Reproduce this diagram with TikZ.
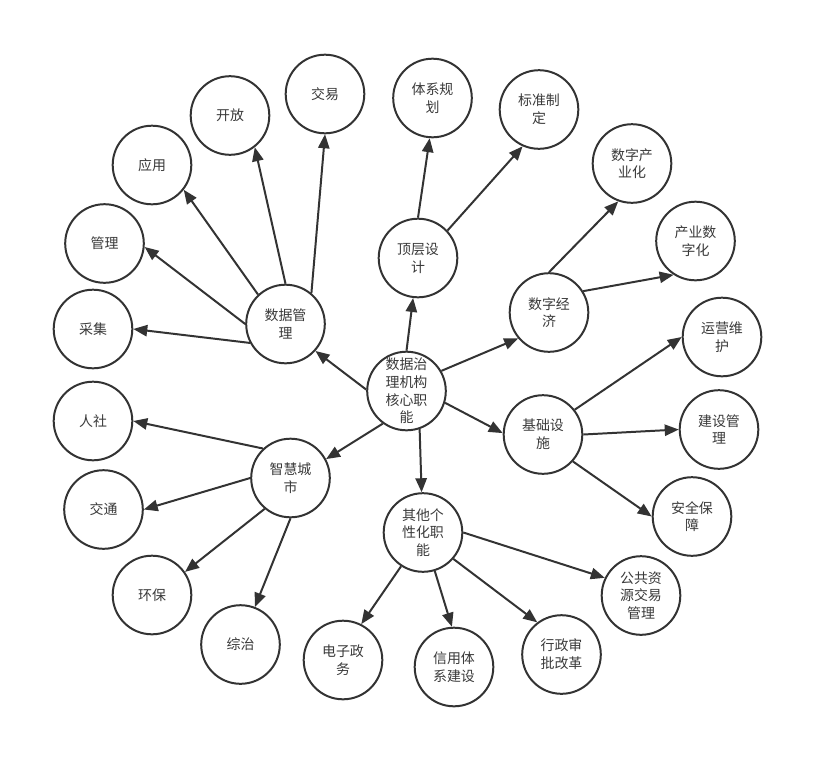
\documentclass[tikz,border=0pt]{standalone}
\usepackage{fontspec}
\usepackage{tikz}
\usetikzlibrary{arrows.meta}
\newfontfamily\cjk{Noto Sans CJK SC}
\definecolor{EdgeGray}{RGB}{51,51,51}
\definecolor{LabelGray}{RGB}{58,58,58}

\begin{document}
\begin{tikzpicture}[
  x=0.02646cm, y=-0.02646cm,
  font=\cjk\fontsize{10.5}{13.3}\selectfont,
  hub/.style={
    circle, draw=EdgeGray, line width=1.5pt, fill=white, text=LabelGray,
    align=center, inner sep=0pt, minimum size=2.08cm
  },
  leaf/.style={hub},
  arrow/.style={-{Triangle[length=10.5pt,width=8.5pt]}, line width=1.5pt, draw=EdgeGray}
]
\useasboundingbox (0,0) rectangle (831,776);

% Core node and the six main functions
\node[hub] (core) at (406.5,391) {数据治\\理机构\\核心职\\能};
\node[hub] (dmgmt) at (285.5,324) {数据管\\理};
\node[hub] (top) at (418,258) {顶层设\\计};
\node[hub] (econ) at (549,312.5) {数字经\\济};
\node[hub] (infra) at (543,434.5) {基础设\\施};
\node[hub] (other) at (423,532.5) {其他个\\性化职\\能};
\node[hub] (city) at (290.5,478) {智慧城\\市};

% Data management leaves
\node[leaf] (collect) at (93,329) {采集};
\node[leaf] (manage) at (104.5,243.5) {管理};
\node[leaf] (apply) at (152,165) {应用};
\node[leaf] (open) at (230,115.5) {开放};
\node[leaf] (trade) at (325,94) {交易};

% Top-level design leaves
\node[leaf] (plan) at (432.5,98) {体系规\\划};
\node[leaf] (standard) at (539,109.5) {标准制\\定};

% Digital economy leaves
\node[leaf] (digind) at (632,163.5) {数字产\\业化};
\node[leaf] (inddig) at (695.5,241) {产业数\\字化};

% Infrastructure leaves
\node[leaf] (operate) at (722,337) {运营维\\护};
\node[leaf] (build) at (719,429.5) {建设管\\理};
\node[leaf] (security) at (692,516.5) {安全保\\障};

% Other functions leaves
\node[leaf] (pubres) at (641,595.5) {公共资\\源交易\\管理};
\node[leaf] (approve) at (561.5,654.5) {行政审\\批改革};
\node[leaf] (credit) at (454,667) {信用体\\系建设};
\node[leaf] (egov) at (343,660) {电子政\\务};

% Smart city leaves
\node[leaf] (governance) at (240.5,644.5) {综治};
\node[leaf] (envir) at (152,595) {环保};
\node[leaf] (traffic) at (103.5,509.5) {交通};
\node[leaf] (social) at (93,421) {人社};

% --- edges ---
\draw[arrow] (core.178) -- (dmgmt.-42);
\draw[arrow] (core.90) -- (top.-97);
\draw[arrow] (core.30) -- (econ.-140);
\draw[arrow] (core.-17) -- (infra.178);
\draw[arrow] (core.-71) -- (other.92);
\draw[arrow] (core.-126) -- (city.28);

\draw[arrow] (dmgmt.50) -- (trade.-90);
\draw[arrow] (dmgmt.90) -- (open.-52);
\draw[arrow] (dmgmt.133) -- (apply.-38);
\draw[arrow] (dmgmt.180) -- (manage.-5);
\draw[arrow] (dmgmt.-152) -- (collect.0);

\draw[arrow] (top.90) -- (plan.-94);
\draw[arrow] (top.43) -- (standard.-114);

\draw[arrow] (econ.90) -- (digind.-110);
\draw[arrow] (econ.32) -- (inddig.-123);

\draw[arrow] (infra.38) -- (operate.180);
\draw[arrow] (infra.0) -- (build.180);
\draw[arrow] (infra.-42) -- (security.180);

\draw[arrow] (other.0) -- (pubres.154);
\draw[arrow] (other.-41) -- (approve.127);
\draw[arrow] (other.-73) -- (credit.93);
\draw[arrow] (other.-123) -- (egov.63);

\draw[arrow] (city.133) -- (social.0);
\draw[arrow] (city.180) -- (traffic.0);
\draw[arrow] (city.-130) -- (envir.35);
\draw[arrow] (city.-90) -- (governance.69);

\end{tikzpicture}
\end{document}
